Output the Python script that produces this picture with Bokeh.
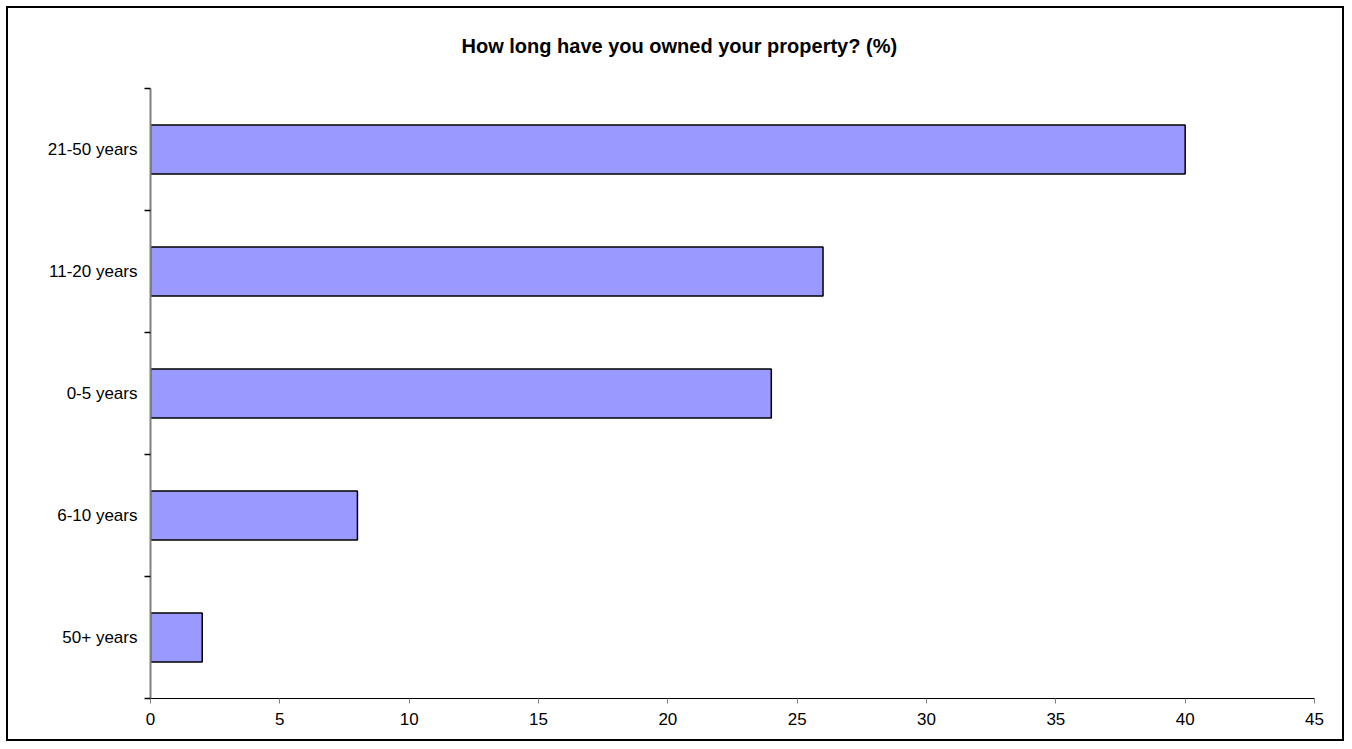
from bokeh.plotting import figure
from bokeh.models import FixedTicker, ColumnDataSource, Range1d, Title
from bokeh.embed import file_html
from bokeh.resources import INLINE

categories = ["21-50 years", "11-20 years", "0-5 years", "6-10 years", "50+ years"]
values = [40, 26, 24, 8, 2]
x_ticks = [0, 5, 10, 15, 20, 25, 30, 35, 40, 45]
title_text = "How long have you owned your property? (%)"

n = len(categories)
ypos = [n - 1 - i + 0.5 for i in range(n)]
src = ColumnDataSource(dict(y=ypos, v=values, cat=categories))

p = figure(width=1338, height=735, output_backend="svg", toolbar_location=None,
           x_range=Range1d(0, 45), y_range=Range1d(0, n),
           min_border_left=142, min_border_right=32, min_border_top=80, min_border_bottom=45,
           styles={"border": "2px solid black", "box-sizing": "border-box",
                   "margin": "6px 0 0 6px"})

# spacer between frame and title (closest to the frame)
spacer = Title(text=" ", text_font="Liberation Sans", text_font_size="20px", standoff=8)
p.add_layout(spacer, "above")

t = Title(text=title_text, align="left",
          text_font="Liberation Sans", text_font_size="20px",
          text_font_style="bold", text_color="black", standoff=0, offset=311)
p.add_layout(t, "above")

p.hbar(y="y", right="v", left=0, height=0.4, source=src,
       fill_color="#9999FF", line_color="black", line_width=1.5)

p.grid.visible = False
p.outline_line_color = None
p.background_fill_color = "white"
p.border_fill_color = "white"

# x axis
xa = p.xaxis[0]
xa.ticker = FixedTicker(ticks=x_ticks, minor_ticks=[])
xa.axis_line_color = "black"
xa.axis_line_width = 1
xa.major_tick_line_color = "#808080"
xa.major_tick_in = 0
xa.major_tick_out = 5
xa.minor_tick_line_color = None
xa.major_label_text_font = "Liberation Sans"
xa.major_label_text_font_size = "17px"
xa.major_label_text_color = "black"
xa.major_label_standoff = 9

# y axis
ya = p.yaxis[0]
ya.ticker = FixedTicker(ticks=ypos, minor_ticks=[float(i) for i in range(n + 1)])
ya.major_label_overrides = {y: c for y, c in zip(ypos, categories)}
ya.axis_line_color = "#808080"
ya.axis_line_width = 2
ya.major_tick_line_color = None
ya.major_tick_out = 0
ya.major_tick_in = 0
ya.minor_tick_line_color = "black"
ya.minor_tick_line_width = 1.5
ya.minor_tick_out = 6
ya.minor_tick_in = 0
ya.major_label_text_font = "Liberation Sans"
ya.major_label_text_font_size = "17px"
ya.major_label_text_color = "black"
ya.major_label_standoff = 7

open("out.html", "w").write(file_html(p, INLINE))
